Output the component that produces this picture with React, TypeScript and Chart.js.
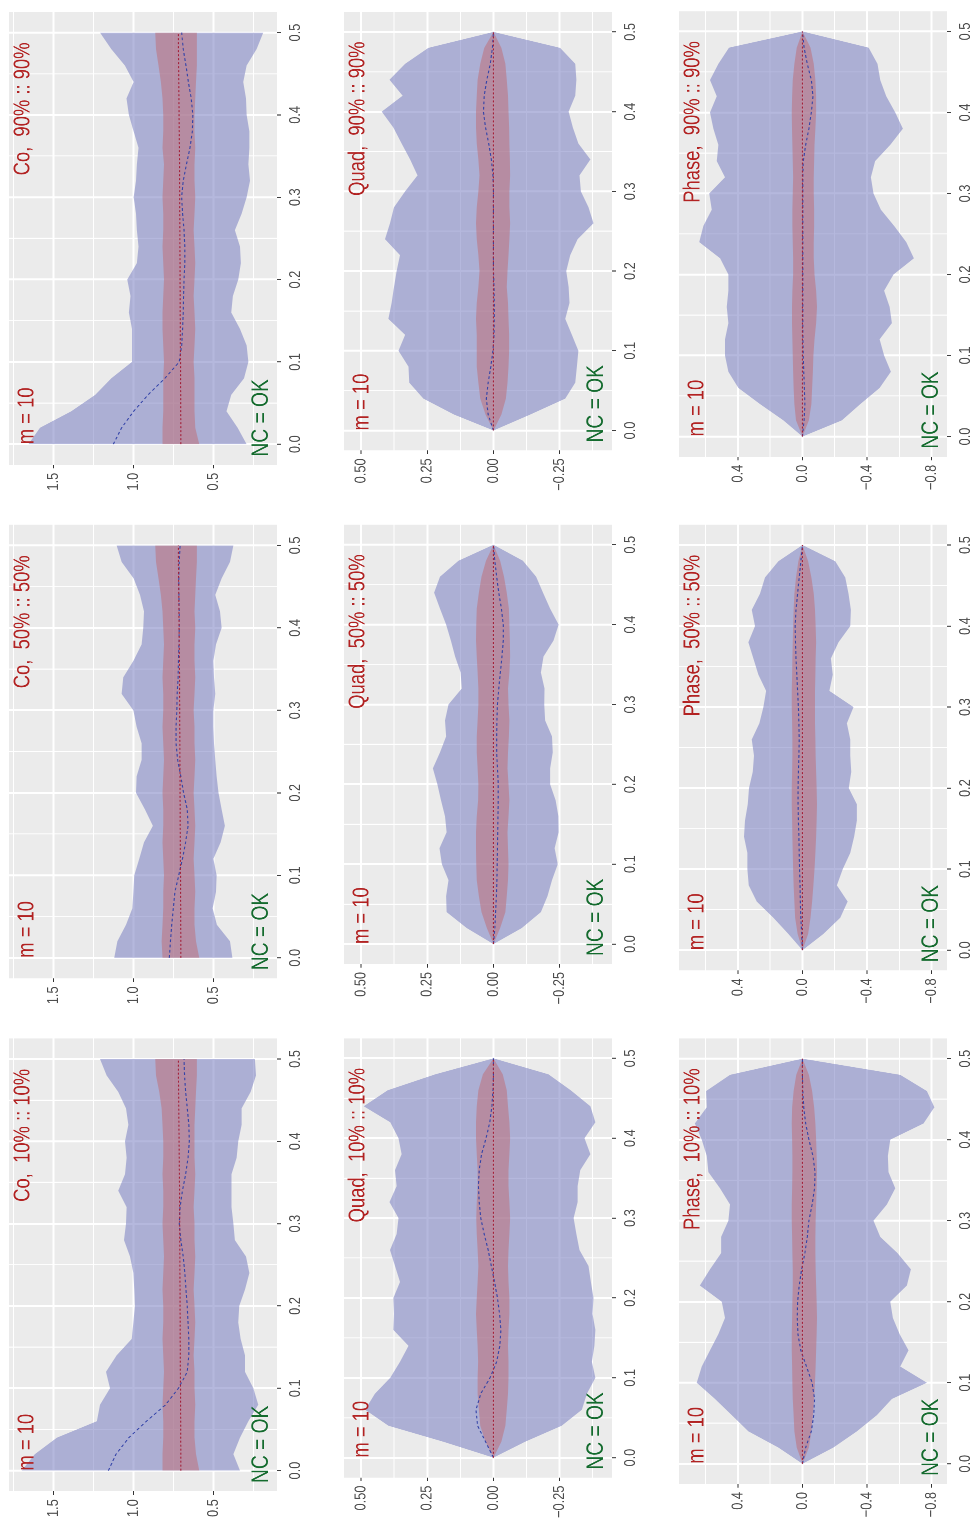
import React, { useEffect, useRef } from 'react';
import { Chart, registerables } from 'chart.js';

Chart.register(...registerables);

const FONT = '"Liberation Sans", Arial, Helvetica, sans-serif';
Chart.defaults.font.family = FONT;

// ---------------- data ----------------
const FREQ = [0.00, 0.02, 0.04, 0.06, 0.08, 0.10, 0.12, 0.14, 0.16, 0.18, 0.20, 0.22, 0.24, 0.26, 0.28, 0.30, 0.32, 0.34, 0.36, 0.38, 0.40, 0.42, 0.44, 0.46, 0.48, 0.50];

const X_MAJOR = [0, 0.1, 0.2, 0.3, 0.4, 0.5];
const X_MINOR = [0.05, 0.15, 0.25, 0.35, 0.45];
const X_LABELS = ['0.0', '0.1', '0.2', '0.3', '0.4', '0.5'];

const CO_MAJOR = [0.5, 1.0, 1.5];
const CO_MINOR = [0.25, 0.75, 1.25, 1.75];
const CO_LABELS = ['0.5', '1.0', '1.5'];
const QUAD_MAJOR = [-0.25, 0, 0.25, 0.5];
const QUAD_MINOR = [-0.375, -0.125, 0.125, 0.375];
const QUAD_LABELS = ['\u22120.25', '0.00', '0.25', '0.50'];
const PHASE_MAJOR = [-0.8, -0.4, 0, 0.4];
const PHASE_MINOR = [-0.6, -0.2, 0.2, 0.6];
const PHASE_LABELS = ['\u22120.8', '\u22120.4', '0.0', '0.4'];

const SPECTRA = ['Co', 'Quad', 'Phase'];
const LEVELS = ['90% :: 90%', '50% :: 50%', '10% :: 10%'];
const M_LABEL = 'm = 10';
const NC_LABEL = 'NC = OK';

const CO_TRUE = [0.705, 0.705, 0.706, 0.706, 0.707, 0.707, 0.708, 0.708, 0.709, 0.709, 0.71, 0.71, 0.711, 0.711, 0.712, 0.712, 0.713, 0.713, 0.714, 0.715, 0.716, 0.717, 0.718, 0.719, 0.72, 0.72];
const ZERO_TRUE = [0, 0, 0, 0, 0, 0, 0, 0, 0, 0, 0, 0, 0, 0, 0, 0, 0, 0, 0, 0, 0, 0, 0, 0, 0, 0];

const CO90_HI = [1.658, 1.585, 1.39, 1.24, 1.14, 1.01, 1.01, 1.01, 1.03, 1.02, 1.04, 0.98, 0.97, 0.98, 0.985, 1.0, 0.985, 0.98, 0.97, 1.0, 1.03, 1.045, 1.0, 1.055, 1.14, 1.21];
const CO90_LO = [0.294, 0.35, 0.42, 0.39, 0.31, 0.283, 0.294, 0.335, 0.39, 0.38, 0.346, 0.33, 0.335, 0.367, 0.325, 0.294, 0.273, 0.283, 0.277, 0.277, 0.294, 0.298, 0.315, 0.294, 0.231, 0.19];
const CO90_RHI = [0.82, 0.82, 0.815, 0.815, 0.815, 0.81, 0.815, 0.82, 0.82, 0.815, 0.81, 0.815, 0.82, 0.815, 0.815, 0.82, 0.815, 0.81, 0.82, 0.815, 0.815, 0.82, 0.83, 0.845, 0.86, 0.865];
const CO90_RLO = [0.59, 0.615, 0.62, 0.62, 0.62, 0.625, 0.62, 0.615, 0.62, 0.625, 0.62, 0.615, 0.62, 0.625, 0.62, 0.615, 0.62, 0.62, 0.615, 0.62, 0.62, 0.615, 0.61, 0.605, 0.605, 0.605];
const CO90_EST = [1.127, 1.075, 1.0, 0.91, 0.805, 0.715, 0.70, 0.694, 0.69, 0.688, 0.685, 0.68, 0.68, 0.685, 0.694, 0.70, 0.69, 0.67, 0.648, 0.633, 0.63, 0.64, 0.658, 0.673, 0.69, 0.70];

const CO50_HI = [1.121, 1.102, 1.048, 1.008, 1.002, 0.996, 0.965, 0.935, 0.88, 0.93, 0.985, 0.981, 0.95, 0.95, 0.981, 1.002, 1.075, 1.065, 1.002, 0.95, 0.94, 0.935, 0.96, 1.0, 1.075, 1.106];
const CO50_LO = [0.383, 0.398, 0.48, 0.506, 0.485, 0.481, 0.502, 0.456, 0.43, 0.45, 0.47, 0.481, 0.49, 0.498, 0.502, 0.502, 0.49, 0.498, 0.502, 0.485, 0.45, 0.46, 0.49, 0.45, 0.398, 0.377];
const CO50_RHI = [0.82, 0.825, 0.82, 0.815, 0.815, 0.81, 0.815, 0.82, 0.815, 0.815, 0.82, 0.815, 0.81, 0.815, 0.82, 0.815, 0.815, 0.82, 0.815, 0.81, 0.815, 0.82, 0.83, 0.845, 0.86, 0.865];
const CO50_RLO = [0.59, 0.61, 0.62, 0.62, 0.615, 0.62, 0.625, 0.62, 0.615, 0.62, 0.625, 0.62, 0.615, 0.62, 0.62, 0.625, 0.62, 0.615, 0.62, 0.62, 0.615, 0.62, 0.615, 0.61, 0.605, 0.605];
const CO50_EST = [0.777, 0.77, 0.762, 0.752, 0.742, 0.718, 0.695, 0.675, 0.66, 0.665, 0.688, 0.705, 0.725, 0.735, 0.735, 0.73, 0.728, 0.722, 0.72, 0.717, 0.715, 0.715, 0.717, 0.718, 0.715, 0.71];

const CO10_HI = [1.70, 1.617, 1.48, 1.23, 1.21, 1.148, 1.173, 1.106, 1.012, 1.002, 0.992, 0.996, 1.002, 1.023, 1.06, 1.048, 1.044, 1.096, 1.054, 1.044, 1.054, 1.033, 1.048, 1.096, 1.169, 1.21];
const CO10_LO = [0.335, 0.377, 0.335, 0.283, 0.221, 0.252, 0.304, 0.304, 0.331, 0.346, 0.34, 0.304, 0.277, 0.298, 0.367, 0.377, 0.388, 0.388, 0.388, 0.356, 0.346, 0.325, 0.325, 0.269, 0.235, 0.242];
const CO10_RHI = [0.82, 0.82, 0.815, 0.815, 0.82, 0.815, 0.81, 0.815, 0.82, 0.815, 0.815, 0.82, 0.815, 0.81, 0.815, 0.82, 0.815, 0.815, 0.82, 0.815, 0.815, 0.82, 0.825, 0.84, 0.86, 0.865];
const CO10_RLO = [0.59, 0.61, 0.62, 0.62, 0.615, 0.62, 0.62, 0.625, 0.62, 0.615, 0.62, 0.625, 0.62, 0.615, 0.62, 0.62, 0.625, 0.62, 0.615, 0.62, 0.62, 0.62, 0.615, 0.61, 0.605, 0.605];
const CO10_EST = [1.158, 1.11, 1.03, 0.92, 0.80, 0.72, 0.665, 0.655, 0.655, 0.66, 0.665, 0.673, 0.68, 0.69, 0.705, 0.715, 0.71, 0.695, 0.675, 0.66, 0.652, 0.655, 0.665, 0.675, 0.682, 0.685];

const QUAD90_HI = [0, 0.149, 0.265, 0.318, 0.321, 0.359, 0.334, 0.397, 0.385, 0.376, 0.366, 0.353, 0.41, 0.391, 0.376, 0.334, 0.287, 0.315, 0.347, 0.378, 0.422, 0.343, 0.393, 0.334, 0.246, 0];
const QUAD90_LO = [0, -0.139, -0.271, -0.309, -0.315, -0.321, -0.296, -0.271, -0.287, -0.284, -0.275, -0.29, -0.318, -0.378, -0.359, -0.33, -0.325, -0.366, -0.321, -0.3, -0.284, -0.309, -0.313, -0.309, -0.252, 0];
const QUAD90_RHI = [0, 0.03, 0.05, 0.057, 0.063, 0.063, 0.063, 0.066, 0.063, 0.057, 0.053, 0.057, 0.063, 0.066, 0.063, 0.057, 0.053, 0.057, 0.063, 0.066, 0.066, 0.063, 0.06, 0.05, 0.035, 0];
const QUAD90_RLO = [0, -0.03, -0.047, -0.053, -0.057, -0.059, -0.059, -0.057, -0.055, -0.05, -0.053, -0.057, -0.06, -0.063, -0.06, -0.06, -0.063, -0.062, -0.06, -0.059, -0.057, -0.055, -0.05, -0.045, -0.03, 0];
const QUAD90_EST = [0, 0.02, 0.027, 0.02, 0.01, 0.002, -0.002, -0.003, -0.003, -0.002, 0, 0, 0, 0, 0, 0, 0.002, 0.008, 0.018, 0.03, 0.038, 0.035, 0.025, 0.012, 0.004, 0];

const QUAD50_HI = [0, 0.101, 0.177, 0.179, 0.17, 0.195, 0.204, 0.177, 0.183, 0.198, 0.212, 0.229, 0.202, 0.179, 0.183, 0.17, 0.12, 0.124, 0.145, 0.161, 0.179, 0.202, 0.224, 0.202, 0.132, 0];
const QUAD50_LO = [0, -0.107, -0.179, -0.204, -0.221, -0.243, -0.231, -0.246, -0.245, -0.235, -0.214, -0.214, -0.224, -0.221, -0.195, -0.192, -0.193, -0.179, -0.189, -0.227, -0.246, -0.214, -0.187, -0.161, -0.111, 0];
const QUAD50_RHI = [0, 0.025, 0.045, 0.055, 0.063, 0.065, 0.066, 0.066, 0.063, 0.058, 0.057, 0.06, 0.063, 0.063, 0.06, 0.057, 0.057, 0.06, 0.063, 0.066, 0.065, 0.063, 0.055, 0.045, 0.028, 0];
const QUAD50_RLO = [0, -0.025, -0.045, -0.05, -0.055, -0.057, -0.055, -0.053, -0.057, -0.06, -0.057, -0.053, -0.055, -0.058, -0.06, -0.057, -0.055, -0.06, -0.063, -0.062, -0.06, -0.058, -0.05, -0.04, -0.025, 0];
const QUAD50_EST = [0, -0.005, -0.008, -0.011, -0.013, -0.014, -0.015, -0.016, -0.017, -0.018, -0.018, -0.015, -0.012, -0.012, -0.013, -0.015, -0.02, -0.026, -0.032, -0.037, -0.037, -0.03, -0.02, -0.012, -0.005, 0];

const QUAD10_HI = [0, 0.19, 0.397, 0.485, 0.448, 0.39, 0.353, 0.321, 0.378, 0.376, 0.378, 0.353, 0.372, 0.391, 0.366, 0.359, 0.393, 0.366, 0.372, 0.347, 0.359, 0.39, 0.49, 0.40, 0.22, 0];
const QUAD10_LO = [0, -0.12, -0.258, -0.334, -0.353, -0.385, -0.372, -0.381, -0.385, -0.374, -0.378, -0.368, -0.359, -0.325, -0.313, -0.303, -0.318, -0.318, -0.328, -0.366, -0.344, -0.385, -0.366, -0.292, -0.208, 0];
const QUAD10_RHI = [0, 0.03, 0.05, 0.055, 0.06, 0.06, 0.058, 0.06, 0.063, 0.066, 0.063, 0.06, 0.057, 0.06, 0.063, 0.065, 0.063, 0.06, 0.06, 0.063, 0.066, 0.066, 0.063, 0.057, 0.04, 0];
const QUAD10_RLO = [0, -0.03, -0.045, -0.05, -0.055, -0.057, -0.057, -0.055, -0.057, -0.06, -0.06, -0.057, -0.055, -0.057, -0.06, -0.063, -0.06, -0.057, -0.057, -0.06, -0.063, -0.06, -0.055, -0.05, -0.035, 0];
const QUAD10_EST = [0, 0.03, 0.06, 0.066, 0.048, 0.013, -0.012, -0.024, -0.028, -0.023, -0.015, -0.004, 0.008, 0.02, 0.035, 0.048, 0.054, 0.057, 0.054, 0.045, 0.028, 0.014, 0.006, 0.002, 0, 0];

const PHASE90_HI = [0, 0.118, 0.262, 0.397, 0.459, 0.48, 0.48, 0.459, 0.469, 0.459, 0.459, 0.51, 0.639, 0.614, 0.562, 0.577, 0.48, 0.531, 0.521, 0.552, 0.573, 0.531, 0.573, 0.521, 0.455, 0];
const PHASE90_LO = [0, -0.244, -0.358, -0.478, -0.548, -0.506, -0.478, -0.554, -0.54, -0.506, -0.564, -0.69, -0.643, -0.568, -0.486, -0.44, -0.424, -0.45, -0.544, -0.622, -0.575, -0.519, -0.482, -0.465, -0.41, 0];
const PHASE90_RHI = [0, 0.04, 0.05, 0.055, 0.058, 0.06, 0.062, 0.065, 0.065, 0.062, 0.058, 0.058, 0.06, 0.062, 0.062, 0.06, 0.058, 0.06, 0.062, 0.065, 0.066, 0.064, 0.06, 0.05, 0.035, 0];
const PHASE90_RLO = [0, -0.04, -0.055, -0.06, -0.065, -0.068, -0.075, -0.085, -0.09, -0.085, -0.075, -0.07, -0.07, -0.072, -0.072, -0.07, -0.07, -0.072, -0.075, -0.08, -0.085, -0.085, -0.08, -0.07, -0.05, 0];
const PHASE90_EST = [0, -0.01, -0.015, -0.012, -0.008, -0.005, -0.003, -0.002, -0.002, -0.002, -0.002, -0.002, -0.002, -0.002, -0.002, -0.002, -0.002, -0.005, -0.02, -0.04, -0.055, -0.065, -0.055, -0.03, -0.01, 0];

const PHASE50_HI = [0, 0.087, 0.18, 0.283, 0.333, 0.341, 0.341, 0.362, 0.356, 0.339, 0.331, 0.308, 0.3, 0.314, 0.267, 0.242, 0.225, 0.273, 0.304, 0.335, 0.294, 0.314, 0.263, 0.232, 0.149, 0];
const PHASE50_LO = [0, -0.13, -0.234, -0.28, -0.213, -0.25, -0.296, -0.32, -0.337, -0.337, -0.287, -0.302, -0.296, -0.296, -0.275, -0.316, -0.167, -0.188, -0.176, -0.223, -0.296, -0.3, -0.285, -0.265, -0.203, 0];
const PHASE50_RHI = [0, 0.03, 0.045, 0.05, 0.055, 0.058, 0.06, 0.062, 0.064, 0.066, 0.066, 0.064, 0.062, 0.062, 0.064, 0.066, 0.066, 0.064, 0.062, 0.06, 0.058, 0.055, 0.05, 0.04, 0.025, 0];
const PHASE50_RLO = [0, -0.035, -0.05, -0.06, -0.068, -0.075, -0.08, -0.085, -0.088, -0.09, -0.088, -0.085, -0.082, -0.08, -0.078, -0.078, -0.078, -0.08, -0.082, -0.085, -0.082, -0.078, -0.07, -0.055, -0.035, 0];
const PHASE50_EST = [0, 0.005, 0.01, 0.013, 0.015, 0.018, 0.02, 0.022, 0.025, 0.027, 0.027, 0.025, 0.022, 0.02, 0.022, 0.025, 0.03, 0.035, 0.04, 0.043, 0.045, 0.04, 0.03, 0.02, 0.01, 0];

const PHASE10_HI = [0, 0.149, 0.335, 0.438, 0.542, 0.655, 0.624, 0.573, 0.521, 0.48, 0.5, 0.635, 0.573, 0.504, 0.504, 0.459, 0.449, 0.511, 0.583, 0.593, 0.624, 0.666, 0.593, 0.597, 0.449, 0];
const PHASE10_LO = [0, -0.192, -0.337, -0.461, -0.554, -0.771, -0.606, -0.657, -0.602, -0.56, -0.544, -0.647, -0.672, -0.589, -0.482, -0.44, -0.523, -0.575, -0.533, -0.529, -0.544, -0.75, -0.817, -0.771, -0.606, 0];
const PHASE10_RHI = [0, 0.035, 0.05, 0.055, 0.06, 0.062, 0.064, 0.066, 0.066, 0.064, 0.062, 0.06, 0.06, 0.062, 0.064, 0.066, 0.066, 0.064, 0.062, 0.062, 0.064, 0.066, 0.064, 0.055, 0.038, 0];
const PHASE10_RLO = [0, -0.04, -0.055, -0.065, -0.072, -0.078, -0.082, -0.085, -0.088, -0.09, -0.088, -0.085, -0.082, -0.08, -0.08, -0.082, -0.085, -0.088, -0.09, -0.088, -0.085, -0.08, -0.072, -0.06, -0.04, 0];
const PHASE10_EST = [0, -0.02, -0.055, -0.07, -0.075, -0.06, -0.025, 0.01, 0.028, 0.032, 0.03, 0.02, 0.005, -0.015, -0.03, -0.04, -0.06, -0.075, -0.078, -0.065, -0.04, -0.02, -0.008, -0.002, 0, 0];

const DATA: Record<string, any[]> = {
  Co: [
    { hi: CO90_HI, lo: CO90_LO, rhi: CO90_RHI, rlo: CO90_RLO, est: CO90_EST, tru: CO_TRUE },
    { hi: CO50_HI, lo: CO50_LO, rhi: CO50_RHI, rlo: CO50_RLO, est: CO50_EST, tru: CO_TRUE },
    { hi: CO10_HI, lo: CO10_LO, rhi: CO10_RHI, rlo: CO10_RLO, est: CO10_EST, tru: CO_TRUE },
  ],
  Quad: [
    { hi: QUAD90_HI, lo: QUAD90_LO, rhi: QUAD90_RHI, rlo: QUAD90_RLO, est: QUAD90_EST, tru: ZERO_TRUE },
    { hi: QUAD50_HI, lo: QUAD50_LO, rhi: QUAD50_RHI, rlo: QUAD50_RLO, est: QUAD50_EST, tru: ZERO_TRUE },
    { hi: QUAD10_HI, lo: QUAD10_LO, rhi: QUAD10_RHI, rlo: QUAD10_RLO, est: QUAD10_EST, tru: ZERO_TRUE },
  ],
  Phase: [
    { hi: PHASE90_HI, lo: PHASE90_LO, rhi: PHASE90_RHI, rlo: PHASE90_RLO, est: PHASE90_EST, tru: ZERO_TRUE },
    { hi: PHASE50_HI, lo: PHASE50_LO, rhi: PHASE50_RHI, rlo: PHASE50_RLO, est: PHASE50_EST, tru: ZERO_TRUE },
    { hi: PHASE10_HI, lo: PHASE10_LO, rhi: PHASE10_RHI, rlo: PHASE10_RLO, est: PHASE10_EST, tru: ZERO_TRUE },
  ],
};

// ---------------- layout / style ----------------
const PAGE_W = 972;
const PAGE_H = 1520;
const SQUEEZE = 0.8;
const INNER_W = PAGE_H / SQUEEZE;
const AXIS_LEFT = 70;
const AXIS_BOTTOM = 40;
const ROW_SHIFT = [0, 513.3, 1026.7];

const COLUMNS = [
  { key: SPECTRA[0], top: 9, bottom: 277, f0: 444.3, f5: 32.3, vmin: 0.104, vmax: 1.779, major: CO_MAJOR, minor: CO_MINOR, labels: CO_LABELS },
  { key: SPECTRA[1], top: 344, bottom: 611.7, f0: 430.7, f5: 31.7, vmin: -0.4478, vmax: 0.5647, major: QUAD_MAJOR, minor: QUAD_MINOR, labels: QUAD_LABELS },
  { key: SPECTRA[2], top: 679, bottom: 946.7, f0: 436.7, f5: 31.7, vmin: -0.8955, vmax: 0.7647, major: PHASE_MAJOR, minor: PHASE_MINOR, labels: PHASE_LABELS },
];

const PANEL_BG = '#EBEBEB';
const BAND_BLUE = 'rgba(120,126,193,0.55)';
const BAND_RED = 'rgba(192,105,112,0.5)';
const EST_BLUE = '#3343A8';
const TRUE_RED = '#A3213A';
const TITLE_RED = '#B22222';
const NC_GREEN = '#146B2E';
const TICK_TEXT = '#4D4D4D';
const TICK_MARK = '#333333';
const NONE = 'rgba(0,0,0,0)';

function geometry(col: any, row: number) {
  const pxPerF = (col.f0 - col.f5) / 0.5;
  const yTop = col.f5 + ROW_SHIFT[row] - 0.025 * pxPerF;
  const yBot = col.f0 + ROW_SHIFT[row] + 0.025 * pxPerF;
  const areaLeft = (PAGE_H - yBot) / SQUEEZE;
  const areaRight = (PAGE_H - yTop) / SQUEEZE;
  const left = Math.round(areaLeft - AXIS_LEFT);
  const width = Math.round(areaRight) - left;
  const top = Math.round(col.top);
  const height = Math.round(col.bottom) - top + AXIS_BOTTOM;
  return { left, top, width, height };
}

const near = (a: number, b: number) => Math.abs(a - b) < 1e-6;

function Panel({ col, row }: { col: any; row: number }) {
  const ref = useRef<HTMLCanvasElement>(null);
  const g = geometry(col, row);

  useEffect(() => {
    const canvas = ref.current;
    if (!canvas) return;
    const d = DATA[col.key][row];
    const xIdx = (v: number) => X_MAJOR.findIndex((m) => near(m, v));
    const yIdx = (v: number) => col.major.findIndex((m: number) => near(m, v));
    const pts = (arr: number[]) => FREQ.map((f, i) => ({ x: f, y: arr[i] }));
    const title = `${col.key},  ${LEVELS[row]}`;

    const bgPlugin = {
      id: 'panelBg',
      beforeDraw(chart: any) {
        const { ctx, chartArea: a } = chart;
        ctx.save();
        ctx.fillStyle = PANEL_BG;
        ctx.fillRect(a.left, a.top, a.right - a.left, a.bottom - a.top);
        ctx.restore();
      },
    };
    const textPlugin = {
      id: 'panelText',
      afterDatasetsDraw(chart: any) {
        const { ctx, chartArea: a, scales } = chart;
        const xs = scales.x;
        ctx.save();
        ctx.textBaseline = 'alphabetic';
        ctx.fillStyle = TITLE_RED;
        ctx.font = `23px ${FONT}`;
        ctx.textAlign = 'right';
        ctx.fillText(title, xs.getPixelForValue(0.488), a.top + 20.5);
        ctx.font = `23px ${FONT}`;
        ctx.textAlign = 'left';
        ctx.fillText(M_LABEL, xs.getPixelForValue(0), a.top + 24.5);
        ctx.fillStyle = NC_GREEN;
        ctx.font = `24px ${FONT}`;
        ctx.fillText(NC_LABEL, xs.getPixelForValue(-0.015), a.bottom - 9);
        ctx.restore();
      },
    };

    const chart = new Chart(canvas, {
      type: 'line',
      data: {
        datasets: [
          { data: pts(d.hi), fill: '+1', backgroundColor: BAND_BLUE, borderColor: NONE, borderWidth: 0, order: 3 },
          { data: pts(d.lo), fill: false, borderColor: NONE, borderWidth: 0, order: 3 },
          { data: pts(d.rhi), fill: '+1', backgroundColor: BAND_RED, borderColor: NONE, borderWidth: 0, order: 2 },
          { data: pts(d.rlo), fill: false, borderColor: NONE, borderWidth: 0, order: 2 },
          { data: pts(d.est), fill: false, borderColor: EST_BLUE, borderWidth: 1.1, borderDash: [3.5, 3], order: 1 },
          { data: pts(d.tru), fill: false, borderColor: TRUE_RED, borderWidth: 1.1, borderDash: [2.5, 2.5], order: 0 },
        ] as any,
      },
      options: {
        animation: false,
        responsive: false,
        devicePixelRatio: 2,
        events: [],
        layout: { padding: 0 },
        elements: { point: { radius: 0 }, line: { tension: 0 } },
        plugins: { legend: { display: false }, tooltip: { enabled: false } },
        scales: {
          x: {
            type: 'linear',
            min: -0.025,
            max: 0.525,
            bounds: 'data',
            afterBuildTicks: (s: any) => {
              s.ticks = [...X_MAJOR, ...X_MINOR].sort((a, b) => a - b).map((v) => ({ value: v }));
            },
            afterFit: (s: any) => {
              s.height = AXIS_BOTTOM;
              s.paddingLeft = 0; s.paddingRight = 0; s.paddingTop = 0; s.paddingBottom = 0;
            },
            border: { display: false },
            grid: {
              color: '#FFFFFF',
              lineWidth: (c: any) => (c.tick && xIdx(c.tick.value) >= 0 ? 2.5 : 1.25),
              tickColor: (c: any) => (c.tick && xIdx(c.tick.value) >= 0 ? TICK_MARK : NONE),
              tickWidth: 1.25,
              tickLength: 4,
              drawTicks: true,
            },
            ticks: {
              autoSkip: false, maxRotation: 0, minRotation: 0, padding: 5,
              color: TICK_TEXT, font: { size: 16, family: FONT },
              callback: (v: any) => { const i = xIdx(Number(v)); return i >= 0 ? X_LABELS[i] : ''; },
            },
          },
          y: {
            type: 'linear',
            min: col.vmin,
            max: col.vmax,
            bounds: 'data',
            afterBuildTicks: (s: any) => {
              s.ticks = [...col.major, ...col.minor].sort((a: number, b: number) => a - b).map((v: number) => ({ value: v }));
            },
            afterFit: (s: any) => {
              s.width = AXIS_LEFT;
              s.paddingLeft = 0; s.paddingRight = 0; s.paddingTop = 0; s.paddingBottom = 0;
            },
            border: { display: false },
            grid: {
              color: '#FFFFFF',
              lineWidth: (c: any) => (c.tick && yIdx(c.tick.value) >= 0 ? 2 : 1),
              tickColor: (c: any) => (c.tick && yIdx(c.tick.value) >= 0 ? TICK_MARK : NONE),
              tickWidth: 1,
              tickLength: 4.5,
              drawTicks: true,
            },
            ticks: {
              autoSkip: false, padding: 5.5,
              color: TICK_TEXT, font: { size: 16, family: FONT },
              callback: (v: any) => { const i = yIdx(Number(v)); return i >= 0 ? col.labels[i] : ''; },
            },
          },
        },
      } as any,
      plugins: [bgPlugin, textPlugin],
    });
    return () => chart.destroy();
  }, []);

  return (
    <div style={{ position: 'absolute', left: g.left, top: g.top, width: g.width, height: g.height }}>
      <canvas ref={ref} width={g.width} height={g.height} style={{ width: g.width, height: g.height, display: 'block' }} />
    </div>
  );
}

export default function App() {
  return (
    <div style={{ position: 'fixed', left: 0, top: 0, width: PAGE_W, height: PAGE_H, overflow: 'hidden', background: '#FFFFFF' }}>
      <div
        style={{
          position: 'absolute', left: 0, top: 0, width: INNER_W, height: PAGE_W,
          transformOrigin: '0 0',
          transform: `translateY(${PAGE_H}px) rotate(-90deg) scaleX(${SQUEEZE})`,
        }}
      >
        {COLUMNS.map((c) => [0, 1, 2].map((r) => <Panel key={`${c.key}-${r}`} col={c} row={r} />))}
      </div>
    </div>
  );
}
